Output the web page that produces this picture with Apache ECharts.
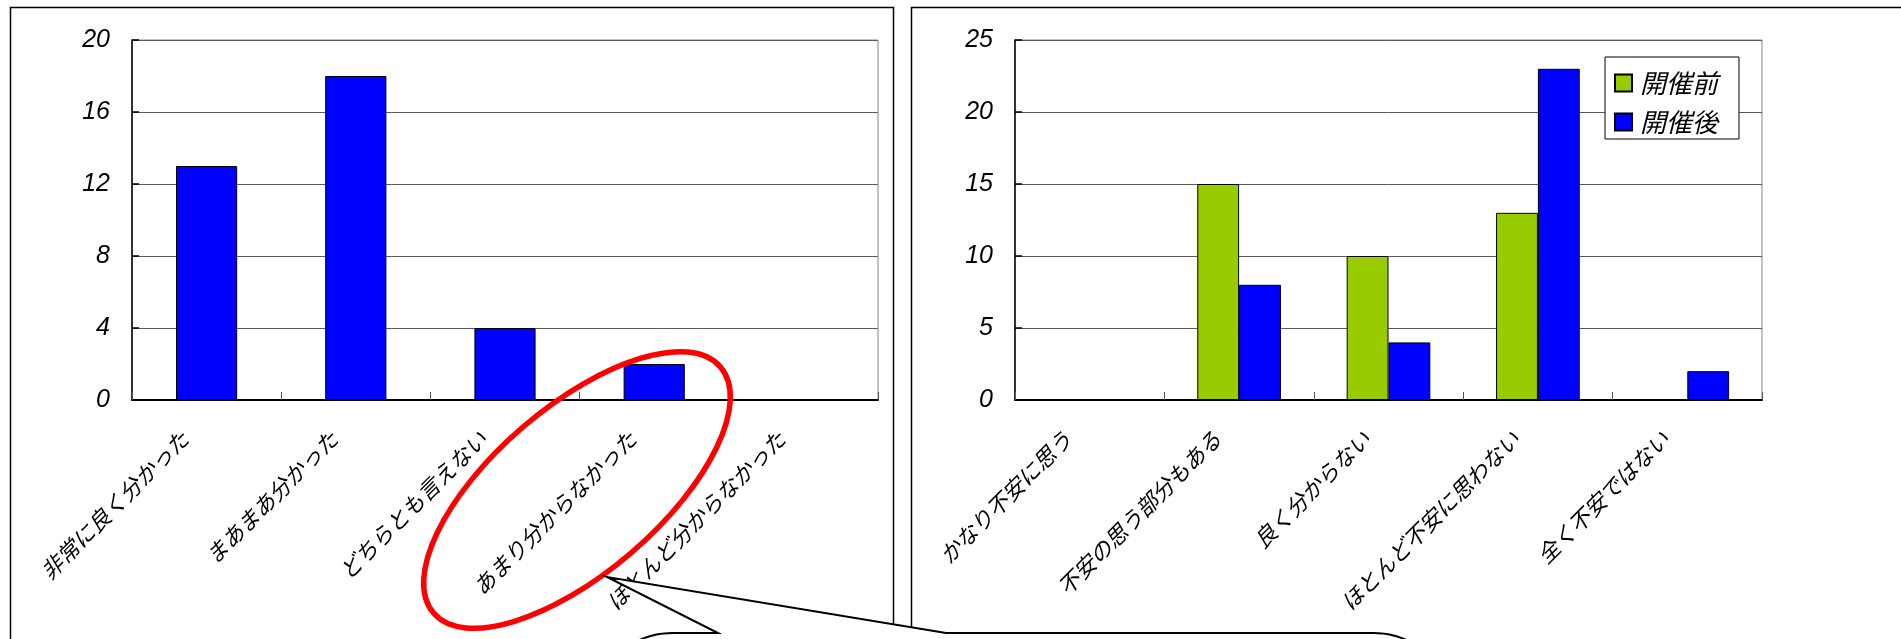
<!DOCTYPE html>
<html>
<head>
<meta charset="utf-8">
<script src="https://cdn.jsdelivr.net/npm/echarts@6/dist/echarts.min.js"></script>
<style>
  html, body { margin: 0; padding: 0; background: #ffffff; }
  #chart { width: 1901px; height: 639px; }
</style>
</head>
<body>
<div id="chart"></div>
<script>
// Left panel: understanding of the explanation
const leftCategories = ['非常に良く分かった', 'まあまあ分かった', 'どちらとも言えない', 'あまり分からなかった', 'ほとんど分からなかった'];
const leftValues = [13, 18, 4, 2, 0];
const leftTicks = { min: 0, max: 20, interval: 4 };

// Right panel: anxiety before / after the event
const rightCategories = ['かなり不安に思う', '不安の思う部分もある', '良く分からない', 'ほとんど不安に思わない', '全く不安ではない'];
const beforeName = '開催前';
const afterName = '開催後';
const beforeValues = [0, 15, 10, 13, 0];
const afterValues = [0, 8, 4, 23, 2];
const rightTicks = { min: 0, max: 25, interval: 5 };

const NUM_FONT = "'Liberation Sans', Arial, sans-serif";
const JP_FONT = "'Noto Sans CJK JP', 'Liberation Sans', sans-serif";

function valueAxis(gridIndex, ticks) {
  return {
    type: 'value', gridIndex,
    min: ticks.min, max: ticks.max, interval: ticks.interval,
    axisLine: { show: true, lineStyle: { color: '#000', width: 1.5 } },
    axisTick: { show: true, inside: true, length: 7, lineStyle: { color: '#000', width: 1.5 } },
    axisLabel: { margin: 22, color: '#000', fontSize: 25, fontStyle: 'italic', fontFamily: NUM_FONT },
    splitLine: { show: true, lineStyle: { color: '#5a5a5a', width: 1 } }
  };
}

function categoryAxis(gridIndex, cats) {
  return {
    type: 'category', gridIndex, data: cats,
    axisLine: { show: true, lineStyle: { color: '#000', width: 2 } },
    axisTick: { show: true, inside: true, length: 8, lineStyle: { color: '#555', width: 1 } },
    axisLabel: {
      interval: 0, rotate: 45, margin: 13, padding: [0, 31, 0, 0],
      color: '#000', fontSize: 22, fontStyle: 'italic', fontFamily: JP_FONT
    },
    splitLine: { show: false }
  };
}

// rounded-corner outline of the speech bubble with its pointer
function arc(cx, cy, r, a0, a1, n) {
  const pts = [];
  for (let i = 0; i <= n; i++) {
    const a = a0 + (a1 - a0) * i / n;
    pts.push([cx + r * Math.cos(a), cy + r * Math.sin(a)]);
  }
  return pts;
}
const bubbleR = 80;
const bubblePoints = [[592, 760]]
  .concat(arc(592 + bubbleR, 633 + bubbleR, bubbleR, Math.PI, 1.5 * Math.PI, 16))
  .concat([[718, 633], [607, 577], [946, 633]])
  .concat(arc(1454 - bubbleR, 633 + bubbleR, bubbleR, 1.5 * Math.PI, 2 * Math.PI, 16))
  .concat([[1454, 760]]);

const chart = echarts.init(document.getElementById('chart'), null, { renderer: 'canvas' });

chart.setOption({
  animation: false,
  backgroundColor: '#ffffff',
  grid: [
    { left: 132, right: 1023, top: 40, bottom: 239, show: true, borderColor: '#888', borderWidth: 1 },
    { left: 1015, right: 139, top: 40, bottom: 239, show: true, borderColor: '#888', borderWidth: 1 }
  ],
  xAxis: [categoryAxis(0, leftCategories), categoryAxis(1, rightCategories)],
  yAxis: [valueAxis(0, leftTicks), valueAxis(1, rightTicks)],
  legend: {
    data: [beforeName, afterName],
    orient: 'vertical',
    left: 1605, top: 57,
    itemWidth: 17, itemHeight: 17, itemGap: 13,
    padding: [13, 21, 4, 9],
    backgroundColor: '#ffffff',
    borderColor: '#000', borderWidth: 1, borderRadius: 0,
    icon: 'rect',
    textStyle: { fontSize: 26, fontStyle: 'italic', fontFamily: JP_FONT, color: '#000', padding: [0, 0, 0, 3] }
  },
  series: [
    {
      type: 'bar', name: '回答数', xAxisIndex: 0, yAxisIndex: 0,
      data: leftValues, barWidth: '41%',
      itemStyle: { color: '#0000ff', borderColor: '#000', borderWidth: 1 }
    },
    {
      type: 'bar', name: beforeName, xAxisIndex: 1, yAxisIndex: 1,
      data: beforeValues, barWidth: '28%', barGap: '0%',
      itemStyle: { color: '#99cc00', borderColor: '#000', borderWidth: 1 }
    },
    {
      type: 'bar', name: afterName, xAxisIndex: 1, yAxisIndex: 1,
      data: afterValues, barWidth: '28%', barGap: '0%',
      itemStyle: { color: '#0000ff', borderColor: '#000', borderWidth: 1 }
    }
  ],
  graphic: [
    // panel frames
    { type: 'rect', z: -10, silent: true, shape: { x: 10.5, y: 7.5, width: 883, height: 700 },
      style: { fill: 'none', stroke: '#000', lineWidth: 1.5 } },
    { type: 'rect', z: -10, silent: true, shape: { x: 911.5, y: 7.5, width: 1100, height: 700 },
      style: { fill: 'none', stroke: '#000', lineWidth: 1.5 } },
    // red highlight ring
    { type: 'ellipse', z: 100, silent: true, x: 577, y: 490, rotation: 0.709,
      shape: { cx: 0, cy: 0, rx: 189, ry: 83 },
      style: { fill: 'none', stroke: '#ff0000', lineWidth: 5.5 } },
    // speech-bubble callout
    { type: 'polygon', z: 100, silent: true,
      shape: { points: bubblePoints },
      style: { fill: '#ffffff', stroke: '#000', lineWidth: 2 } }
  ]
});
</script>
</body>
</html>
